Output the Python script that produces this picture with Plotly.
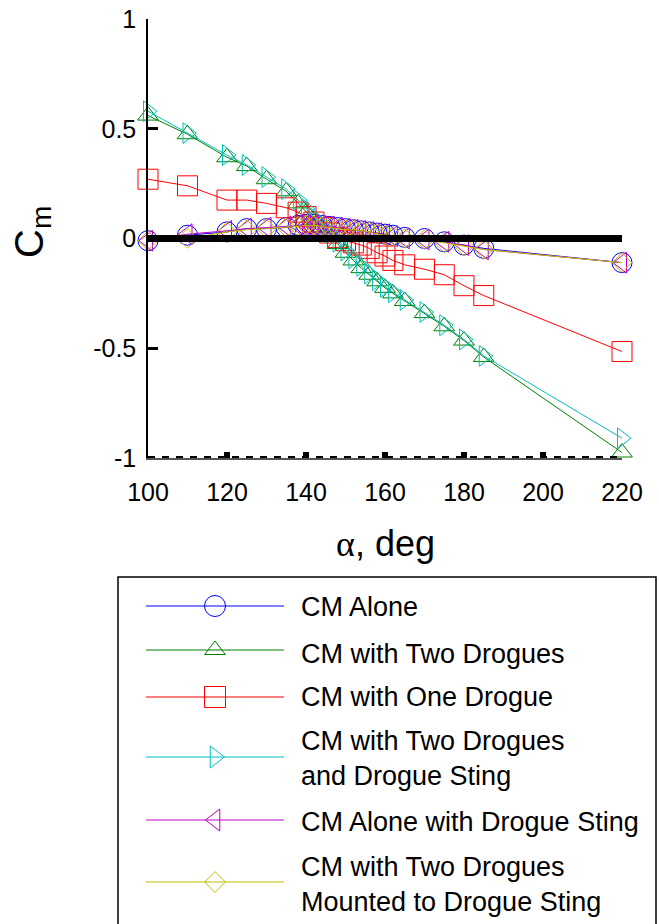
import plotly.graph_objects as go

# ---------------- data ----------------
alpha = [100, 110, 120, 125, 130, 135, 138, 140, 142, 144, 146, 148, 150, 152,
         154, 156, 158, 160, 162, 165, 170, 175, 180, 185, 220]

cm_alone = [-0.01, 0.015, 0.03, 0.045, 0.045, 0.05, 0.06, 0.065, 0.065, 0.06, 0.055,
            0.05, 0.045, 0.04, 0.035, 0.03, 0.025, 0.02, 0.015, 0.005, 0.0, -0.015,
            -0.03, -0.045, -0.11]
cm_two_drogues = [0.56, 0.475, 0.37, 0.33, 0.27, 0.215, 0.16, 0.12, 0.085, 0.05, 0.015,
                  -0.025, -0.065, -0.10, -0.135, -0.165, -0.195, -0.225, -0.25, -0.285,
                  -0.34, -0.40, -0.465, -0.54, -0.975]
cm_one_drogue = [0.27, 0.24, 0.175, 0.175, 0.16, 0.14, 0.12, 0.10, 0.075, 0.05, 0.025,
                 0.005, -0.01, -0.02, -0.03, -0.045, -0.065, -0.08, -0.10, -0.12, -0.14,
                 -0.165, -0.215, -0.26, -0.515]
cm_two_drogues_sting = [0.58, 0.48, 0.38, 0.335, 0.28, 0.225, 0.175, 0.135, 0.095, 0.06,
                        0.025, -0.015, -0.055, -0.09, -0.125, -0.16, -0.19, -0.22, -0.245,
                        -0.28, -0.335, -0.395, -0.46, -0.535, -0.91]
cm_alone_sting = [-0.01, 0.02, 0.035, 0.045, 0.05, 0.055, 0.06, 0.06, 0.06, 0.055, 0.055,
                  0.05, 0.045, 0.04, 0.035, 0.03, 0.025, 0.02, 0.01, 0.0, -0.005, -0.015,
                  -0.03, -0.05, -0.11]
cm_two_drogues_mounted = [-0.01, 0.0, 0.03, 0.04, 0.045, 0.05, 0.055, 0.06, 0.06, 0.055,
                          0.05, 0.045, 0.04, 0.04, 0.035, 0.03, 0.02, 0.015, 0.01, 0.0,
                          -0.005, -0.02, -0.035, -0.05, -0.11]

ref_alpha = [100, 220]
zero_ref = [0, 0]
bottom_ref = [-1, -1]

series_names = ["CM Alone", "CM with Two Drogues", "CM with One Drogue",
                "CM with Two Drogues<br>and Drogue Sting", "CM Alone with Drogue Sting",
                "CM with Two Drogues<br>Mounted to Drogue Sting"]
series_values = [cm_alone, cm_two_drogues, cm_one_drogue, cm_two_drogues_sting,
                 cm_alone_sting, cm_two_drogues_mounted]

x_ticks = [100, 120, 140, 160, 180, 200, 220]
y_ticks = [-1, -0.5, 0, 0.5, 1]
y_ticktext = ["-1", "-0.5", "0", "0.5", "1"]

# ---------------- styles ----------------
colors = ["#0000FF", "#008000", "#FF0000", "#00BFBF", "#BF00BF", "#BFBF00"]
symbols = ["circle-open", "triangle-up-open", "square-open", "triangle-right-open",
           "triangle-left-open", "diamond-open"]
sizes = [20, 18, 20, 18, 18, 15]
leg_sizes = [21, 18, 21, 19, 19, 16]
FONT = "Liberation Sans, Arial, sans-serif"

# figure geometry (pixels)
W, H = 659, 924
ML, MR, MT, MB = 100, 37, 19, 0
PW, PH = W - ML - MR, H - MT - MB


def px_x(p):
    return (p - ML) / PW


def px_y(p):
    return (H - MB - p) / PH


fig = go.Figure()

for name, vals, c, s, sz in zip(series_names, series_values, colors, symbols, sizes):
    fig.add_trace(go.Scatter(
        x=alpha, y=vals, mode="lines+markers", name=name.replace("<br>", " "),
        line=dict(color=c, width=1),
        marker=dict(symbol=s, size=sz, color=c, line=dict(color=c, width=1)),
        cliponaxis=False, showlegend=False))

# reference lines
fig.add_trace(go.Scatter(x=ref_alpha, y=zero_ref, mode="lines",
                         line=dict(color="black", width=7), showlegend=False,
                         cliponaxis=False))
fig.add_trace(go.Scatter(x=ref_alpha, y=bottom_ref, mode="lines",
                         line=dict(color="black", width=4, dash="7px,7px"),
                         showlegend=False, cliponaxis=False))

# ---------------- custom legend ----------------
leg_rows = [606, 650, 697, 757, 820, 882]
leg_text_rows = [607, 654, 697, 758, 822, 884]
for i, (c, s, sz) in enumerate(zip(colors, symbols, leg_sizes)):
    fig.add_trace(go.Scatter(x=[0, 1], y=[leg_rows[i]] * 2, mode="lines",
                             line=dict(color=c, width=1), xaxis="x2", yaxis="y2",
                             showlegend=False, cliponaxis=False, hoverinfo="skip"))
    fig.add_trace(go.Scatter(x=[0.5], y=[leg_rows[i]], mode="markers",
                             marker=dict(symbol=s, size=sz, color=c,
                                         line=dict(color=c, width=1)),
                             xaxis="x2", yaxis="y2", showlegend=False,
                             cliponaxis=False, hoverinfo="skip"))
    fig.add_annotation(x=px_x(299), y=leg_text_rows[i], xref="paper", yref="y2",
                       xanchor="left", yanchor="middle", showarrow=False, align="left",
                       text=series_names[i],
                       font=dict(family=FONT, size=27, color="black"))

fig.add_shape(type="rect", xref="paper", yref="paper",
              x0=px_x(118), x1=px_x(656), y0=px_y(577), y1=px_y(960),
              line=dict(color="black", width=1.5), fillcolor="rgba(0,0,0,0)")

# axis titles
fig.add_annotation(x=px_x(32), y=px_y(232), xref="paper", yref="paper",
                   text="C<sub>m</sub>", textangle=-90, showarrow=False,
                   xanchor="center", yanchor="middle",
                   font=dict(family=FONT, size=40, color="black"))
fig.add_annotation(x=px_x(385), y=px_y(543), xref="paper", yref="paper",
                   text="<span style='font-family:Liberation Serif'>α</span>, deg",
                   showarrow=False, xanchor="center", yanchor="middle",
                   font=dict(family=FONT, size=36, color="black"))

fig.update_layout(
    width=W, height=H,
    margin=dict(l=ML, r=MR, t=MT, b=MB, pad=0, autoexpand=False),
    paper_bgcolor="white", plot_bgcolor="white",
    showlegend=False,
    xaxis=dict(domain=[px_x(148), 1], range=[100, 220], tickvals=x_ticks,
               ticks="inside", ticklen=6, tickwidth=6, tickcolor="black",
               showline=True, linecolor="#555555", linewidth=1.5,
               showgrid=False, zeroline=False, ticklabelstandoff=11,
               tickfont=dict(family=FONT, size=25, color="black"), anchor="y"),
    yaxis=dict(domain=[px_y(458), 1], range=[-1, 1], tickvals=y_ticks,
               ticktext=y_ticktext, ticks="inside", ticklen=10, tickwidth=3,
               tickcolor="black", showline=True, linecolor="black", linewidth=1.5,
               showgrid=False, zeroline=False, ticklabelstandoff=5,
               tickfont=dict(family=FONT, size=25, color="black"), anchor="x"),
    xaxis2=dict(domain=[px_x(146), px_x(284)], range=[0, 1], visible=False,
                anchor="y2", fixedrange=True),
    yaxis2=dict(domain=[px_y(910), px_y(590)], range=[910, 590], visible=False,
                anchor="x2", fixedrange=True),
)

fig.write_html("out.html")
